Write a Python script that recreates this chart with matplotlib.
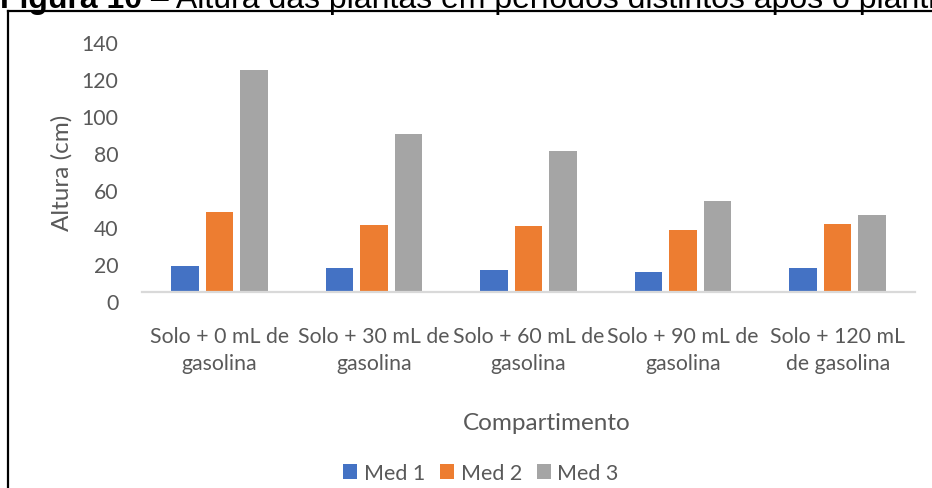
import matplotlib
matplotlib.use('Agg')
import matplotlib.pyplot as plt
from matplotlib.lines import Line2D
from matplotlib.transforms import ScaledTranslation
import numpy as np

categories = [
    "Solo + 0 mL de\ngasolina",
    "Solo + 30 mL de\ngasolina",
    "Solo + 60 mL de\ngasolina",
    "Solo + 90 mL de\ngasolina",
    "Solo + 120 mL\nde gasolina",
]
series_names = ["Med 1", "Med 2", "Med 3"]
med1 = [13.7, 12.7, 11.6, 10.5, 12.7]
med2 = [42.8, 35.8, 35.3, 33.1, 36.3]
med3 = [119.3, 84.8, 75.7, 48.7, 41.2]
yticks = [0, 20, 40, 60, 80, 100, 120, 140]

colors = ["#4472C4", "#ED7D31", "#A5A5A5"]
text_color = "#595959"
W, H = 932, 489

plt.rcParams['font.family'] = ['Lato', 'DejaVu Sans']

fig = plt.figure(figsize=(W / 100, H / 100), dpi=100)
ax = fig.add_axes([142 / W, 196.5 / H, (915 - 142) / W, 259.7 / H])

x = np.arange(len(categories))
offset = 0.223
width = 0.178
for i, (vals, name) in enumerate(zip([med1, med2, med3], series_names)):
    ax.bar(x + (i - 1) * offset, vals, width, color=colors[i], label=name, zorder=2)

ax.set_xlim(-0.5, len(categories) - 0.5)
ax.set_ylim(0, 140)
ax.set_yticks(yticks)
ax.set_xticks(x)
ax.set_xticklabels(categories, fontsize=15.3, color=text_color, linespacing=1.45)
ax.tick_params(axis='y', length=0, pad=17, labelsize=15.3, labelcolor=text_color)
ax.tick_params(axis='x', length=0, pad=25)

# y labels sit slightly below their ticks
shift = ScaledTranslation(0, -10 / 100, fig.dpi_scale_trans)
for lbl in ax.get_yticklabels():
    lbl.set_transform(lbl.get_transform() + shift)

for s in ["top", "right", "left"]:
    ax.spines[s].set_visible(False)
ax.spines["bottom"].set_color("#D9D9D9")
ax.spines["bottom"].set_linewidth(1.6)
ax.spines["bottom"].set_zorder(3)

fig.text(62 / W, 1 - 173 / H, "Altura (cm)", rotation=90, ha="center", va="center",
         fontsize=17.5, color=text_color)
fig.text(547 / W, 1 - 424 / H, "Compartimento", ha="center", va="center",
         fontsize=17.5, color=text_color)

fig.legend(loc="center", bbox_to_anchor=(481 / W, 1 - 474 / H), ncol=3, frameon=False,
           fontsize=15.5, labelcolor=text_color, handlelength=0.65, handleheight=0.65,
           handletextpad=0.3, columnspacing=0.7, borderpad=0)

# frame around the figure area
fig.add_artist(Line2D([8 / W, 8 / W], [0, 1 - 12 / H], color="black", lw=1.6,
                      transform=fig.transFigure))
fig.add_artist(Line2D([8 / W, 1.01], [1 - 12 / H, 1 - 12 / H], color="black", lw=1.6,
                      transform=fig.transFigure))

# caption, cut off at the top edge
base_y = 1 - 8 / H
fig.text(0, base_y, "Figura 10", fontsize=23, fontweight="bold", va="baseline",
         ha="left", family="Liberation Sans", color="black")
fig.text(142 / W, base_y, " \u2013 Altura das plantas em per\u00edodos distintos ap\u00f3s o plantio",
         fontsize=23, va="baseline", ha="left", family="Liberation Sans", color="black")

fig.savefig("out.png", dpi=100)
